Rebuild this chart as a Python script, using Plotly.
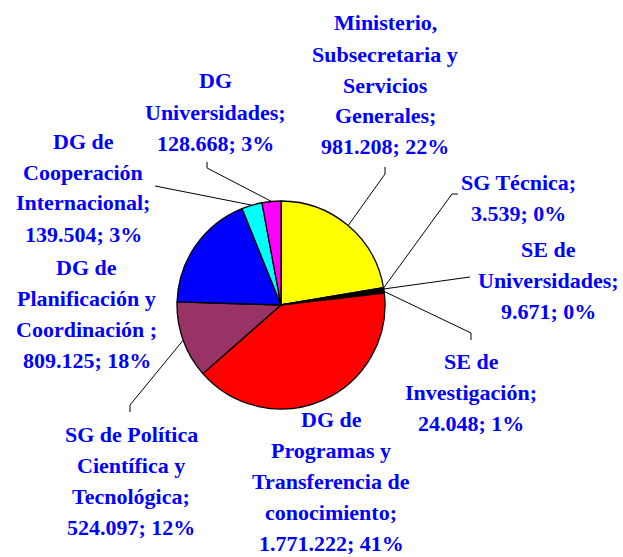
import math
import plotly.graph_objects as go

W, H = 623, 557

# data
labels = [
    "Ministerio, Subsecretaria y Servicios Generales",
    "SG Técnica",
    "SE de Universidades",
    "SE de Investigación",
    "DG de Programas y Transferencia de conocimiento",
    "SG de Política Científica y Tecnológica",
    "DG de Planificación y Coordinación",
    "DG de Cooperación Internacional",
    "DG Universidades",
]
values = [981208, 3539, 9671, 24048, 1771222, 524097, 809125, 139504, 128668]
label_text = [
    ["Ministerio,", "Subsecretaria y", "Servicios", "Generales;", "981.208; 22%"],
    ["SG Técnica;", "3.539; 0%"],
    ["SE de", "Universidades;", "9.671; 0%"],
    ["SE de", "Investigación;", "24.048; 1%"],
    ["DG de", "Programas y", "Transferencia de", "conocimiento;", "1.771.222; 41%"],
    ["SG de Política", "Científica y", "Tecnológica;", "524.097; 12%"],
    ["DG de", "Planificación y", "Coordinación ;", "809.125; 18%"],
    ["DG de", "Cooperación", "Internacional;", "139.504; 3%"],
    ["DG", "Universidades;", "128.668; 3%"],
]
colors = ["#FFFF00", "#000000", "#000000", "#000000", "#FF0000",
          "#993366", "#0000FF", "#00FFFF", "#FF00FF"]

# layout (pixels)
cx, cy, r = 281, 305, 104
label_pos = [(385, 23), (518, 182), (548, 249), (471, 361), (331, 419),
             (131, 434), (87, 267), (83, 141), (215, 81)]
leader = [
    [(385, 174), (385, 167)],
    [(452, 194), (458, 194)],
    [(470, 277)],
    [(471, 333), (471, 340)],
    None,
    [(130, 405), (130, 412)],
    None,
    [(155, 186)],
    [(207, 168), (207, 162)],
]
line_gap = 31


def px(x, y):
    return x / W, 1 - y / H


fig = go.Figure(go.Pie(
    labels=labels, values=values, sort=False, direction="clockwise",
    rotation=0, textinfo="none", hoverinfo="label+value+percent",
    marker=dict(colors=colors, line=dict(color="black", width=1.3)),
    domain=dict(x=[(cx - r) / W, (cx + r) / W],
                y=[(H - cy - r) / H, (H - cy + r) / H]),
))

annotations = []
shapes = []
total = sum(values)
cum = 0
for i, v in enumerate(values):
    mid = (cum + v / 2) / total * 2 * math.pi
    cum += v
    lx, ly = label_pos[i]
    for j, t in enumerate(label_text[i]):
        x, y = px(lx, ly + j * line_gap)
        annotations.append(dict(
            x=x, y=y, xref="paper", yref="paper", text=t, showarrow=False,
            xanchor="center", yanchor="middle",
            font=dict(family="Liberation Serif", size=22, color="#0000FF",
                      weight="bold"),
        ))
    if leader[i]:
        pts = [(cx + r * math.sin(mid), cy - r * math.cos(mid))] + leader[i]
        path = ""
        for k, (x, y) in enumerate(pts):
            fx, fy = px(x, y)
            path += ("M" if k == 0 else " L") + f"{fx:.4f},{fy:.4f}"
        shapes.append(dict(type="path", path=path, xref="paper", yref="paper",
                           line=dict(color="black", width=1)))

fig.update_layout(
    width=W, height=H, margin=dict(l=0, r=0, t=0, b=0),
    paper_bgcolor="white", plot_bgcolor="white", showlegend=False,
    annotations=annotations, shapes=shapes,
)
# page body has a default 8px margin, drop it so the chart sits at 0,0
fig.write_html("out.html", config={"displayModeBar": False},
               post_script="document.body.style.margin='0';")
